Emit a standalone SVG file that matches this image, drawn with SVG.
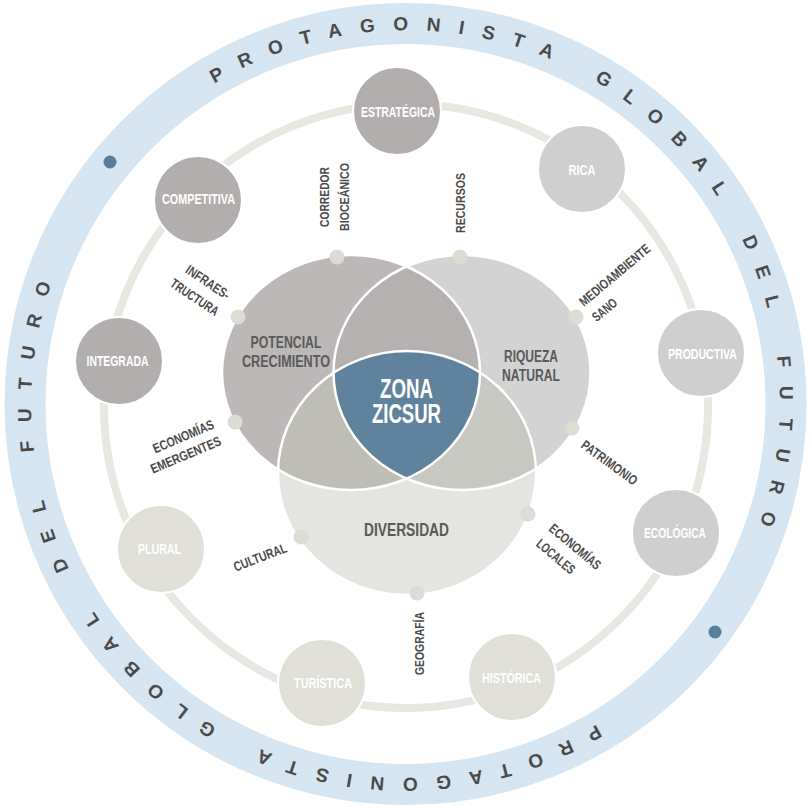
<svg xmlns="http://www.w3.org/2000/svg" width="811" height="807" viewBox="0 0 811 807">
<style>
.ring{font-family:"Liberation Sans",Arial,sans-serif;font-weight:bold;font-size:19px;fill:#4a4a4a;letter-spacing:18.1px;word-spacing:7.7px}
.sat{font-family:"Liberation Sans",Arial,sans-serif;font-weight:bold;font-size:14px;fill:#ffffff;text-anchor:middle}
.lbl{font-family:"Liberation Sans",Arial,sans-serif;font-weight:bold;font-size:13.5px;fill:#4a4a4a}
.venn{font-family:"Liberation Sans",Arial,sans-serif;font-weight:bold;fill:#5a5a5a;text-anchor:middle}
.dot{fill:#dcdcd4}
.s1{fill:#b2aeae;stroke:#fff;stroke-width:2}
.s2{fill:#cfcfcf;stroke:#fff;stroke-width:2}
.s3{fill:#e0e0d9;stroke:#fff;stroke-width:2}
</style>
<defs>
<ellipse id="eL" cx="351" cy="372.5" rx="129" ry="117.5"/>
<ellipse id="eR" cx="462" cy="372.5" rx="128.5" ry="117.5"/>
<ellipse id="eB" cx="407" cy="473" rx="129" ry="122"/>
<clipPath id="cL"><use href="#eL"/></clipPath>
<clipPath id="cR"><use href="#eR"/></clipPath>
<path id="p1" d="M214.51,83.61 A373,373 0 1,1 596.49,724.39 A373,373 0 1,1 214.51,83.61"/>
<path id="p2" d="M596.49,724.39 A373,373 0 1,1 214.51,83.61 A373,373 0 1,1 596.49,724.39"/>
</defs>
<rect width="811" height="807" fill="#ffffff"/>
<g id="outer-ring">
<circle cx="405.5" cy="404" r="380.5" fill="none" stroke="#d5e5f2" stroke-width="41"/>
<circle cx="110" cy="162" r="6.5" fill="#567d9a"/>
<circle cx="715" cy="632" r="6.5" fill="#567d9a"/>
<text class="ring"><textPath href="#p1">PROTAGONISTA GLOBAL DEL FUTURO</textPath></text>
<text class="ring"><textPath href="#p2">PROTAGONISTA GLOBAL DEL FUTURO</textPath></text>
</g>
<g id="connectors">
<circle cx="406" cy="406" r="302" fill="none" stroke="#e8e8e3" stroke-width="8"/>
</g>
<g id="venn">
<use href="#eL" fill="#bcb8b7"/>
<use href="#eR" fill="#d3d3d3"/>
<use href="#eB" fill="#e4e4e0"/>
<use href="#eR" fill="#b5b1b0" clip-path="url(#cL)"/>
<use href="#eB" fill="#bebeb6" clip-path="url(#cL)"/>
<use href="#eB" fill="#c8c8c3" clip-path="url(#cR)"/>
<g clip-path="url(#cL)"><use href="#eB" fill="#5f839d" clip-path="url(#cR)"/></g>
<use href="#eL" fill="none" stroke="#fff" stroke-width="2.5"/>
<use href="#eR" fill="none" stroke="#fff" stroke-width="2.5"/>
<use href="#eB" fill="none" stroke="#fff" stroke-width="2.5"/>
</g>
<g id="potencial-crecimiento">
<text class="venn" font-size="16"><tspan x="286" y="348" textLength="71" lengthAdjust="spacingAndGlyphs">POTENCIAL</tspan><tspan x="286" y="367" textLength="88" lengthAdjust="spacingAndGlyphs">CRECIMIENTO</tspan></text>
<circle class="dot" cx="337" cy="257" r="7.5"/>
<circle class="dot" cx="238" cy="317" r="7.5"/>
<circle class="dot" cx="235" cy="422" r="7.5"/>
</g>
<g id="riqueza-natural">
<text class="venn" font-size="16"><tspan x="531" y="362" textLength="54" lengthAdjust="spacingAndGlyphs">RIQUEZA</tspan><tspan x="531" y="381" textLength="58" lengthAdjust="spacingAndGlyphs">NATURAL</tspan></text>
<circle class="dot" cx="460" cy="257" r="7.5"/>
<circle class="dot" cx="576" cy="317" r="7.5"/>
<circle class="dot" cx="572" cy="428" r="7.5"/>
</g>
<g id="diversidad">
<text class="venn" font-size="18" x="406.5" y="536" textLength="85" lengthAdjust="spacingAndGlyphs">DIVERSIDAD</text>
<circle class="dot" cx="301" cy="537" r="7.5"/>
<circle class="dot" cx="417" cy="593" r="7.5"/>
<circle class="dot" cx="528" cy="514" r="7.5"/>
</g>
<g id="zona-zicsur">
<text class="venn" font-size="27" style="fill:#ffffff"><tspan x="406.5" y="398" textLength="53" lengthAdjust="spacingAndGlyphs">ZONA</tspan><tspan x="406.5" y="423" textLength="69" lengthAdjust="spacingAndGlyphs">ZICSUR</tspan></text>
</g>
<g id="estrategica"><circle class="s1" cx="397" cy="111" r="44"/><text class="sat" x="398" y="117" textLength="74" lengthAdjust="spacingAndGlyphs">ESTRATÉGICA</text></g>
<g id="competitiva"><circle class="s1" cx="198" cy="200" r="44"/><text class="sat" x="198.5" y="203.5" textLength="73" lengthAdjust="spacingAndGlyphs">COMPETITIVA</text></g>
<g id="integrada"><circle class="s1" cx="119" cy="361" r="44"/><text class="sat" x="117.5" y="366" textLength="62" lengthAdjust="spacingAndGlyphs">INTEGRADA</text></g>
<g id="rica"><circle class="s2" cx="582" cy="169" r="44"/><text class="sat" x="582" y="175" textLength="27" lengthAdjust="spacingAndGlyphs">RICA</text></g>
<g id="productiva"><circle class="s2" cx="701" cy="353" r="44"/><text class="sat" x="702.5" y="359" textLength="69" lengthAdjust="spacingAndGlyphs">PRODUCTIVA</text></g>
<g id="ecologica"><circle class="s2" cx="676" cy="533" r="44"/><text class="sat" x="675" y="538" textLength="62" lengthAdjust="spacingAndGlyphs">ECOLÓGICA</text></g>
<g id="plural"><circle class="s3" cx="161" cy="549" r="44"/><text class="sat" x="159.5" y="554" textLength="43" lengthAdjust="spacingAndGlyphs">PLURAL</text></g>
<g id="turistica"><circle class="s3" cx="322" cy="683" r="44"/><text class="sat" x="323" y="688" textLength="58" lengthAdjust="spacingAndGlyphs">TURÍSTICA</text></g>
<g id="historica"><circle class="s3" cx="512" cy="677" r="44"/><text class="sat" x="511.5" y="683" textLength="59" lengthAdjust="spacingAndGlyphs">HISTÓRICA</text></g>
<g id="labels">
<text class="lbl" transform="translate(329,197) rotate(-90)" text-anchor="middle"><tspan x="0" y="0" textLength="60" lengthAdjust="spacingAndGlyphs">CORREDOR</tspan><tspan x="0" y="20" textLength="68" lengthAdjust="spacingAndGlyphs">BIOCEÁNICO</tspan></text>
<text class="lbl" transform="translate(465,203) rotate(-90)" text-anchor="middle" x="0" y="0" textLength="60" lengthAdjust="spacingAndGlyphs">RECURSOS</text>
<text class="lbl" transform="translate(424,643.5) rotate(-90)" text-anchor="middle" x="0" y="0" textLength="63" lengthAdjust="spacingAndGlyphs">GEOGRAFÍA</text>
<text class="lbl" transform="translate(226,300) rotate(34)" text-anchor="end"><tspan x="0" y="0" textLength="50" lengthAdjust="spacingAndGlyphs">INFRAES-</tspan><tspan x="0" y="20" textLength="55" lengthAdjust="spacingAndGlyphs">TRUCTURA</tspan></text>
<text class="lbl" transform="translate(584,307) rotate(-40)"><tspan x="0" y="0" textLength="88" lengthAdjust="spacingAndGlyphs">MEDIOAMBIENTE</tspan><tspan x="0" y="20" textLength="28" lengthAdjust="spacingAndGlyphs">SANO</tspan></text>
<text class="lbl" transform="translate(580,447) rotate(36)" x="0" y="0" textLength="66" lengthAdjust="spacingAndGlyphs">PATRIMONIO</text>
<text class="lbl" transform="translate(548,530) rotate(40)"><tspan x="0" y="0" textLength="63" lengthAdjust="spacingAndGlyphs">ECONOMÍAS</tspan><tspan x="0" y="20" textLength="46" lengthAdjust="spacingAndGlyphs">LOCALES</tspan></text>
<text class="lbl" transform="translate(235.7,571.7) rotate(-21)" x="0" y="0" textLength="56" lengthAdjust="spacingAndGlyphs">CULTURAL</text>
<text class="lbl" transform="translate(215,428) rotate(-23)" text-anchor="end"><tspan x="0" y="0" textLength="65" lengthAdjust="spacingAndGlyphs">ECONOMÍAS</tspan><tspan x="0" y="18" textLength="75" lengthAdjust="spacingAndGlyphs">EMERGENTES</tspan></text>
</g>
</svg>
